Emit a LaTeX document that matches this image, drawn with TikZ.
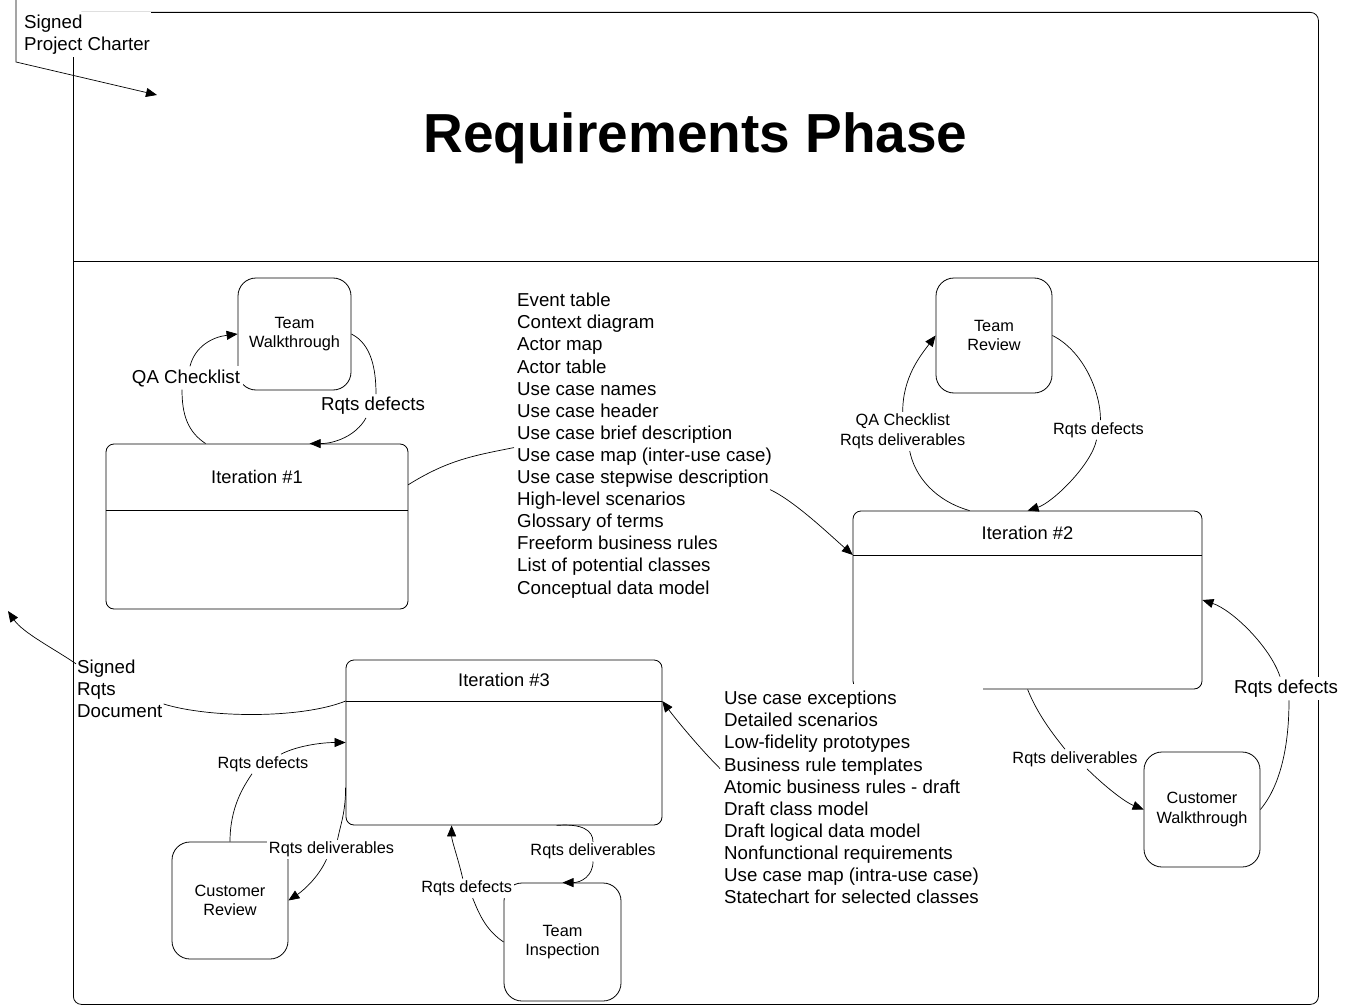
\documentclass[tikz,border=0pt]{standalone}
\usepackage{fontspec}
\setmainfont{Liberation Sans}
\usetikzlibrary{positioning, arrows.meta}
\tikzset{linea/.style={line width=0.7pt}}
\tikzset{flujo/.style={line width=0.7pt,-{Triangle[length=11pt,width=9pt]}}}
\tikzset{revision/.style={draw,line width=0.8pt,rounded corners=18pt,fill=white,align=center,minimum width=116,minimum height=115,font=\fontsize{16.3}{19.5}\selectfont}}
\tikzset{iteracion/.style={draw,line width=0.8pt,rounded corners=8pt,fill=white}}
\tikzset{cabeza/.style={inner sep=0pt,font=\fontsize{18.3}{22}\selectfont}}
\tikzset{etiq/.style={fill=white,inner sep=2pt,align=center,font=\fontsize{16.3}{19.5}\selectfont}}
\tikzset{etiqg/.style={fill=white,inner sep=3pt,align=left,font=\fontsize{18.7}{22.1}\selectfont}}
\tikzset{lista/.style={inner sep=3pt,align=left,font=\fontsize{18.7}{22.1}\selectfont}}

\begin{document}
\begin{tikzpicture}[x=1pt, y=-1pt]
  \useasboundingbox (0,0) rectangle (1355,1006);

  % marco de la fase
  \node[draw,line width=0.8pt,rounded corners=8pt,minimum width=1245,minimum height=992,anchor=north west] (fase) at (73,12) {};
  \node[font=\fontsize{55}{60}\bfseries\selectfont] (titulo) at (695.5,138.5) {Requirements Phase};
  \coordinate (corte) at (0,261);
  \draw[linea] (fase.west |- corte) -- (fase.east |- corte);

  % iteraciones
  \node[iteracion,minimum width=302,minimum height=165] (it1) at (257,526.5) {};
  \node[cabeza,minimum width=302,minimum height=66,anchor=north] (it1h) at (it1.north) {Iteration \#1};
  \draw[linea] (it1h.south west) -- (it1h.south east);

  \node[iteracion,minimum width=349,minimum height=178] (it2) at (1027.5,600) {};
  \node[cabeza,minimum width=349,minimum height=44,anchor=north] (it2h) at (it2.north) {Iteration \#2};
  \draw[linea] (it2h.south west) -- (it2h.south east);

  \node[iteracion,minimum width=316,minimum height=165] (it3) at (504,742.5) {};
  \node[cabeza,minimum width=316,minimum height=41,anchor=north] (it3h) at (it3.north) {Iteration \#3};
  \draw[linea] (it3h.south west) -- (it3h.south east);

  % revisiones
  \node[revision,minimum width=113,minimum height=112] (tw) at (294.5,334) {Team\\Walkthrough};
  \node[revision] (tr) at (994,335.5) {Team\\Review};
  \node[revision] (cw) at (1202,809.5) {Customer\\Walkthrough};
  \node[revision,minimum height=117] (cr) at (230,900.5) {Customer\\Review};
  \node[revision,minimum width=117,minimum height=118] (ti) at (562.5,942) {Team\\Inspection};

  % etiquetas
  \node[etiqg,align=center] (qa1) at (186,378) {QA Checklist};
  \node[etiqg,align=center] (df1) at (373,406) {Rqts defects};
  \node[etiq] (qa2) at (902.7,431.5) {QA Checklist\\Rqts deliverables};
  \node[etiq] (df2) at (1098.5,430) {Rqts defects};
  \node[etiq] (dl2) at (1075,759) {Rqts deliverables};
  \node[etiqg,align=center] (df3) at (1286,688.5) {Rqts defects};
  \node[etiq] (df4) at (263,764) {Rqts defects};
  \node[etiq] (dl4) at (331.5,849.5) {Rqts deliverables};
  \node[etiq] (df5) at (466.7,888.3) {Rqts defects};
  \node[etiq] (dl5) at (593,851.7) {Rqts deliverables};
  \node[etiqg,anchor=west,inner xsep=1pt] (carta) at (23,34.5) {Signed\\Project Charter};
  \node[etiqg,anchor=west,inner sep=1pt] (doc) at (76,689) {Signed\\Rqts\\Document};

  \node[lista,anchor=north west] (lista1) at (514,290) {Event table\\Context diagram\\Actor map\\Actor table\\Use case names\\Use case header\\Use case brief description\\Use case map (inter-use case)\\Use case stepwise description\\High-level scenarios\\Glossary of terms\\Freeform business rules\\List of potential classes\\Conceptual data model};
  \node[lista,anchor=north west,fill=white,inner xsep=4pt,inner ysep=7pt] (lista2) at (720,684) {Use case exceptions\\Detailed scenarios\\Low-fidelity prototypes\\Business rule templates\\Atomic business rules - draft\\Draft class model\\Draft logical data model\\Nonfunctional requirements\\Use case map (intra-use case)\\Statechart for selected classes};

  % entrada y salida
  \coordinate (afuera) at (16,0);
  \coordinate (entrada) at (157,95);
  \coordinate (salida) at (8,611);
  \draw[flujo] (afuera) -- ++(0,62) -- (entrada);
  \draw[linea] (it3h.south west) .. controls +(-45,18) and +(45,14) .. ([yshift=-15pt]doc.east);
  \draw[flujo] ([yshift=-5pt]doc.north west) .. controls +(-20,-14) and +(15,22) .. (salida);

  % iteracion 1
  \draw[linea] ([xshift=100pt]it1.north west) .. controls +(-18,-12) and +(0,25) .. ([xshift=-4pt]qa1.south);
  \draw[flujo] ([xshift=4pt]qa1.north) .. controls +(5,-20) and +(-25,3) .. (tw.west);
  \draw[linea] (tw.east) .. controls +(20,10) and +(0,-25) .. ([xshift=3pt]df1.north);
  \draw[flujo] ([xshift=-7pt]df1.south) .. controls +(-10,18) and +(25,0) .. ([xshift=204pt]it1.north west);
  \draw[linea] ([yshift=-8pt]it1h.east) .. controls +(40,-25) and +(-40,8) .. ([yshift=-2pt]lista1.west);
  \draw[flujo] ([xshift=-5pt,yshift=-44pt]lista1.east) .. controls +(25,12) and +(-25,-22) .. (it2h.south west);

  % iteracion 2
  \draw[linea] ([xshift=117pt]it2.north west) .. controls +(-35,-10) and +(5,25) .. ([xshift=7pt]qa2.south);
  \draw[flujo] (qa2.north) .. controls +(0,-35) and +(-15,20) .. (tr.west);
  \draw[linea] (tr.east) .. controls +(30,15) and +(0,-30) .. ([xshift=2pt]df2.north);
  \draw[flujo] ([xshift=-2pt]df2.south) .. controls +(-5,25) and +(25,-8) .. ([xshift=175pt]it2.north west);
  \draw[linea] ([xshift=175pt]it2.south west) .. controls +(10,25) and +(-12,-15) .. ([xshift=-10pt]dl2.north);
  \draw[flujo] ([xshift=12pt]dl2.south) .. controls +(15,15) and +(-20,-8) .. (cw.west);
  \draw[linea] (cw.east) .. controls +(25,-30) and +(0,30) .. ([xshift=3pt]df3.south);
  \draw[flujo] ([xshift=-6pt]df3.north) .. controls +(-10,-30) and +(30,10) .. (it2.east);
  \draw[flujo] ([yshift=29pt]lista2.west) .. controls +(-20,-20) and +(15,20) .. (it3h.south east);

  % iteracion 3
  \draw[linea] (cr.north) .. controls +(0,-35) and +(-8,12) .. ([xshift=-11pt]df4.south);
  \draw[flujo] ([xshift=18pt]df4.north) .. controls +(15,-8) and +(-25,0) .. (it3.west);
  \draw[linea] ([yshift=-45pt]it3.west) .. controls +(0,25) and +(3,-15) .. ([xshift=6pt]dl4.north);
  \draw[flujo] ([xshift=-5pt]dl4.south) .. controls +(-8,18) and +(15,-10) .. (cr.east);
  \draw[linea] (ti.west) .. controls +(-18,-12) and +(6,15) .. ([xshift=6pt]df5.south);
  \draw[flujo] ([xshift=-4pt]df5.north) .. controls +(-4,-18) and +(0,15) .. ([xshift=106pt]it3.south west);
  \draw[linea] ([xshift=211pt]it3.south west) .. controls +(25,-2) and +(0,-12) .. (dl5.north);
  \draw[flujo] (dl5.south) .. controls +(0,15) and +(18,0) .. (ti.north);
\end{tikzpicture}
\end{document}
